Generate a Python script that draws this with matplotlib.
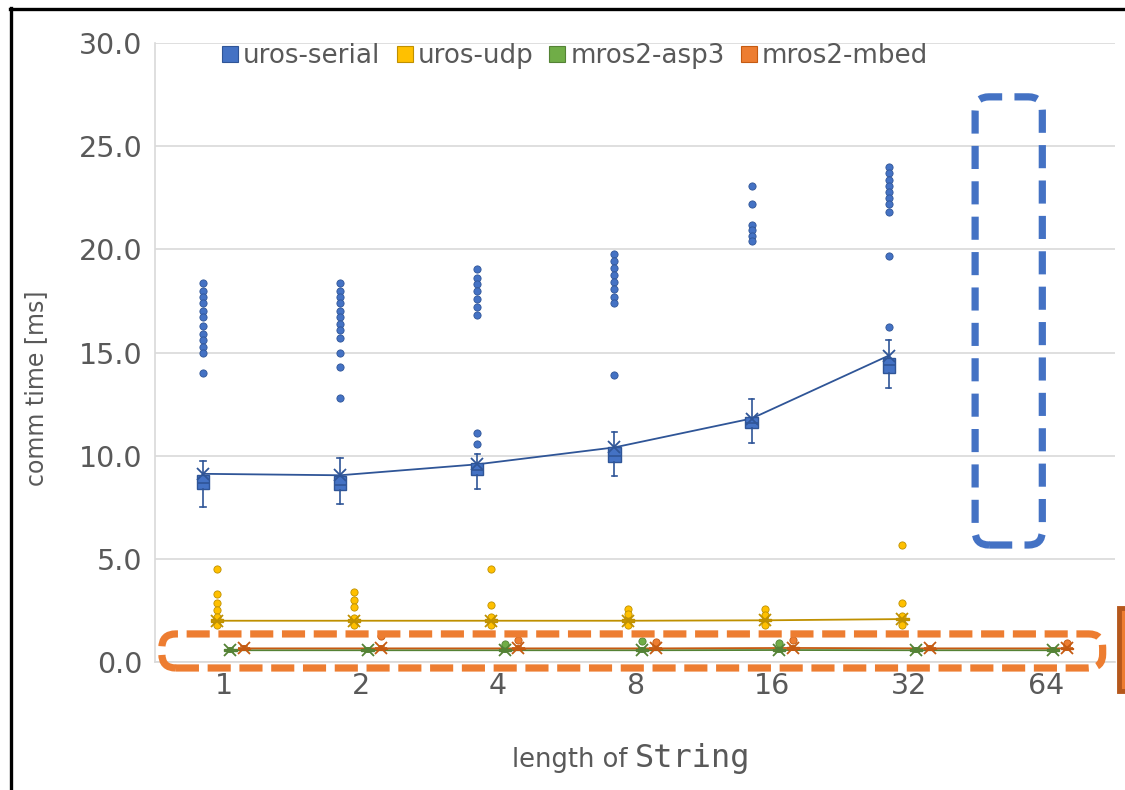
import numpy as np
import matplotlib
matplotlib.use("Agg")
import matplotlib.pyplot as plt
from matplotlib.patches import FancyBboxPatch, Rectangle
from matplotlib.lines import Line2D

# ---------------- data ----------------
categories = ['1', '2', '4', '8', '16', '32', '64']
series_names = ['uros-serial', 'uros-udp', 'mros2-asp3', 'mros2-mbed']

# uros-serial (no data for 64)
serial_q1 = [8.38, 8.33, 9.06, 9.69, 11.33, 13.99]
serial_med = [8.67, 8.57, 9.30, 10.00, 11.57, 14.38]
serial_q3 = [9.06, 9.00, 9.64, 10.41, 11.86, 14.72]
serial_lo = [7.50, 7.65, 8.38, 9.00, 10.60, 13.27]
serial_hi = [9.73, 9.88, 10.10, 11.14, 12.73, 15.60]
serial_mean = [9.12, 9.05, 9.58, 10.40, 11.80, 14.85]
serial_fliers = [
    [18.35, 17.97, 17.68, 17.38, 17.00, 16.70, 16.30, 15.90, 15.60, 15.27, 14.96, 14.00],
    [18.35, 18.00, 17.70, 17.40, 17.00, 16.70, 16.40, 16.10, 15.70, 15.00, 14.30, 12.80],
    [19.03, 18.60, 18.30, 18.00, 17.60, 17.20, 16.80, 11.09, 10.56],
    [19.76, 19.42, 19.08, 18.74, 18.40, 18.10, 17.70, 17.38, 13.90],
    [23.05, 22.18, 21.20, 20.92, 20.63, 20.39],
    [23.97, 23.68, 23.34, 23.05, 22.80, 22.50, 22.18, 21.79, 19.70, 16.22],
]

# uros-udp (no data for 64)
udp_q1 = [1.96, 1.96, 1.96, 1.96, 1.97, 2.02]
udp_med = [2.00, 2.00, 2.00, 2.00, 2.01, 2.06]
udp_q3 = [2.06, 2.06, 2.06, 2.06, 2.07, 2.12]
udp_lo = [1.90, 1.90, 1.90, 1.90, 1.90, 1.95]
udp_hi = [2.15, 2.15, 2.15, 2.15, 2.15, 2.20]
udp_mean = [2.00, 2.00, 2.00, 2.00, 2.02, 2.08]
udp_fliers = [
    [4.50, 3.29, 2.85, 2.52, 2.18, 1.79],
    [3.39, 3.00, 2.66, 2.13, 1.79],
    [4.50, 2.76, 2.18, 1.79],
    [2.57, 2.32, 1.80],
    [2.57, 2.30, 1.80],
    [5.67, 2.88, 2.25, 1.80],
]

# mros2-asp3
asp3_q1 = [0.54, 0.54, 0.54, 0.54, 0.55, 0.54, 0.54]
asp3_med = [0.57, 0.57, 0.57, 0.57, 0.58, 0.57, 0.57]
asp3_q3 = [0.61, 0.61, 0.61, 0.61, 0.62, 0.61, 0.61]
asp3_lo = [0.48, 0.48, 0.48, 0.48, 0.49, 0.48, 0.48]
asp3_hi = [0.68, 0.68, 0.68, 0.68, 0.69, 0.68, 0.68]
asp3_mean = [0.57, 0.57, 0.57, 0.57, 0.58, 0.57, 0.57]
asp3_fliers = [[], [], [0.88], [1.00], [0.90], [], []]

# mros2-mbed
mbed_q1 = [0.62, 0.62, 0.62, 0.62, 0.63, 0.62, 0.62]
mbed_med = [0.66, 0.66, 0.66, 0.66, 0.67, 0.66, 0.66]
mbed_q3 = [0.70, 0.70, 0.70, 0.70, 0.71, 0.70, 0.70]
mbed_lo = [0.56, 0.56, 0.56, 0.56, 0.57, 0.56, 0.56]
mbed_hi = [0.76, 0.76, 0.76, 0.76, 0.77, 0.76, 0.76]
mbed_mean = [0.66, 0.66, 0.66, 0.66, 0.68, 0.66, 0.66]
mbed_fliers = [[], [1.26], [1.05], [0.95], [1.07], [], [0.90]]

series_stats = [
    (serial_q1, serial_med, serial_q3, serial_lo, serial_hi, serial_mean, serial_fliers),
    (udp_q1, udp_med, udp_q3, udp_lo, udp_hi, udp_mean, udp_fliers),
    (asp3_q1, asp3_med, asp3_q3, asp3_lo, asp3_hi, asp3_mean, asp3_fliers),
    (mbed_q1, mbed_med, mbed_q3, mbed_lo, mbed_hi, mbed_mean, mbed_fliers),
]

fill_colors = ['#4472C4', '#FFC000', '#70AD47', '#ED7D31']
dark_colors = ['#2F5597', '#BF9000', '#548235', '#C55A11']
offsets = [-0.15, -0.05, 0.05, 0.15]
box_width = 0.09

TXT = '#595959'
GRID = '#D9D9D9'

# ---------------- figure ----------------
fig = plt.figure(figsize=(11.25, 7.9), dpi=100)
ax = fig.add_axes([155 / 1125, 1 - 662 / 790, (1115 - 155) / 1125, (662 - 43) / 790])

for s, (q1, med, q3, lo, hi, mean, fl) in enumerate(series_stats):
    n = len(q1)
    stats = []
    for i in range(n):
        stats.append(dict(q1=q1[i], med=med[i], q3=q3[i], whislo=lo[i], whishi=hi[i],
                          mean=mean[i], fliers=np.array(fl[i])))
    pos = [i + offsets[s] for i in range(n)]
    fc, dc = fill_colors[s], dark_colors[s]
    ax.bxp(stats, positions=pos, widths=box_width, patch_artist=True,
           showmeans=True, meanline=False,
           boxprops=dict(facecolor=fc, edgecolor=dc, linewidth=1.0),
           medianprops=dict(color=dc, linewidth=1.2),
           whiskerprops=dict(color=dc, linewidth=1.2),
           capprops=dict(color=dc, linewidth=1.2),
           capwidths=box_width * 0.45,
           meanprops=dict(marker='x', markersize=9, markeredgecolor=dc, markeredgewidth=1.3),
           flierprops=dict(marker='o', markersize=5.2, markerfacecolor=fc,
                           markeredgecolor=dc, markeredgewidth=0.6),
           zorder=3, manage_ticks=False)
    ax.plot(pos, mean, color=dc, linewidth=1.3, zorder=2.5)

ax.set_xlim(-0.5, len(categories) - 0.5)
ax.set_ylim(0, 30)
ax.set_yticks(np.arange(0, 30.1, 5))
ax.set_yticklabels([f'{v:.1f}' for v in np.arange(0, 30.1, 5)])
ax.set_xticks(range(len(categories)))
ax.set_xticklabels(categories)
ax.tick_params(axis='both', length=0, labelsize=20.5, labelcolor=TXT)
ax.tick_params(axis='y', pad=9)
ax.tick_params(axis='x', pad=7)
ax.grid(axis='y', color=GRID, linewidth=1.2, zorder=0)
ax.set_axisbelow(True)
for sp in ['top', 'right']:
    ax.spines[sp].set_visible(False)
ax.spines['left'].set_color(GRID)
ax.spines['bottom'].set_color(GRID)
ax.spines['left'].set_linewidth(1.2)
ax.spines['bottom'].set_linewidth(1.2)

ax.set_ylabel('comm time [ms]', fontsize=17, color=TXT)
ax.yaxis.set_label_coords(-0.111, 0.443)

# x label with monospace "String"
fig.text(628 / 1125, 1 - 760 / 790, 'length of', fontsize=18.5, color=TXT, ha='right', va='center')
fig.text(635 / 1125, 1 - 759 / 790, 'String', fontsize=23, color=TXT, ha='left', va='center',
         family='DejaVu Sans Mono')

# legend
handles = [Line2D([], [], linestyle='none', marker='s', markersize=11,
                  markerfacecolor=fill_colors[i], markeredgecolor=dark_colors[i], markeredgewidth=0.8)
           for i in range(4)]
leg = ax.legend(handles, series_names, loc='upper left', bbox_to_anchor=(204 / 1125, 1 - 25 / 790),
                bbox_transform=fig.transFigure, ncol=4, frameon=False, fontsize=18.8,
                handlelength=0.6, handletextpad=0.2, columnspacing=0.62, borderpad=0.2)
for t in leg.get_texts():
    t.set_color(TXT)

# annotation: dashed rounded rectangles
xpx = 137.14  # px per category
ypx = 20.63   # px per ms
asp = xpx / ypx
r = 14 / xpx
blue_box = FancyBboxPatch((5.48, 5.67), 5.97 - 5.48, 27.39 - 5.67,
                          boxstyle=f'round,pad=0,rounding_size={r}', mutation_aspect=asp,
                          facecolor='none', edgecolor='#4472C4', linewidth=5.2,
                          linestyle=(0, (3.2, 1.7)), clip_on=False, zorder=5)
ax.add_patch(blue_box)
orange_box = FancyBboxPatch((-0.45, -0.29), 6.41 + 0.45, 1.36 + 0.29,
                            boxstyle=f'round,pad=0,rounding_size={r}', mutation_aspect=asp,
                            facecolor='none', edgecolor='#ED7D31', linewidth=5.2,
                            linestyle=(0, (3.2, 1.2)), clip_on=False, zorder=5)
ax.add_patch(orange_box)

# partially visible text box at right edge
fig.patches.append(Rectangle((1119 / 1125, 1 - 691 / 790), 0.05, 83 / 790,
                             transform=fig.transFigure, facecolor='#ED7D31',
                             edgecolor='#B5581C', linewidth=3.5, zorder=5))

# black frame at top/left
fig.add_artist(Line2D([10 / 1125, 1.0], [1 - 8.5 / 790, 1 - 8.5 / 790], transform=fig.transFigure,
                      color='black', linewidth=2.4))
fig.add_artist(Line2D([10.5 / 1125, 10.5 / 1125], [0, 1 - 7.5 / 790], transform=fig.transFigure,
                      color='black', linewidth=2.4))

fig.savefig('out.png', dpi=100, facecolor='white')
